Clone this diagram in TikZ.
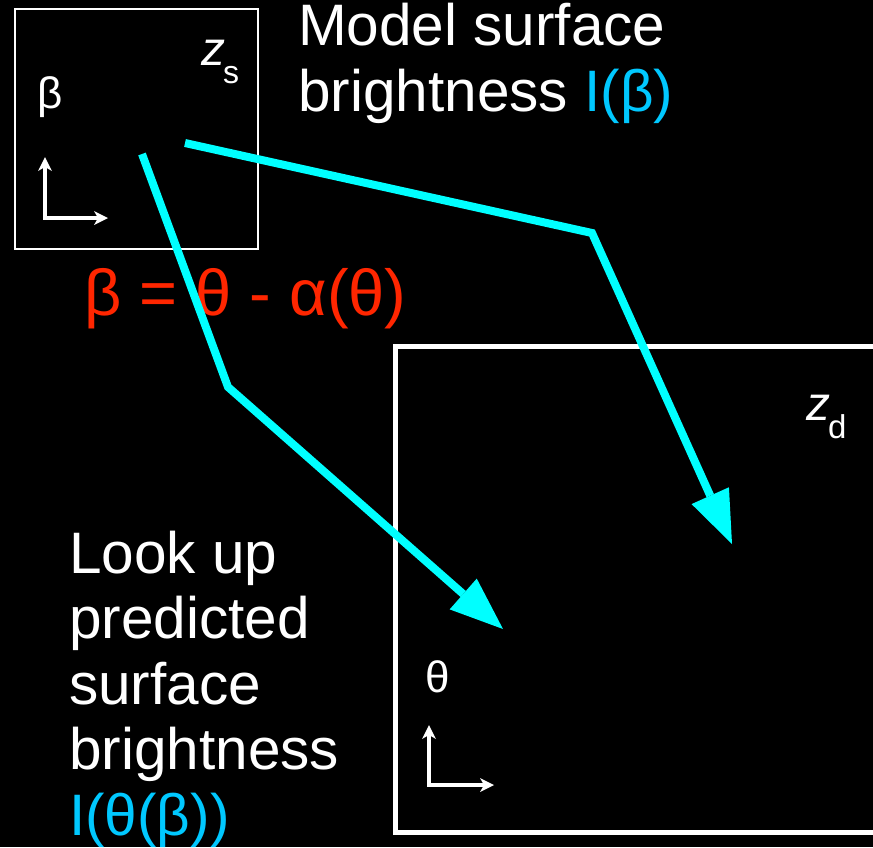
\documentclass[tikz,border=0pt]{standalone}
\usepackage{fontspec}
\setmainfont{Liberation Sans}
\usetikzlibrary{arrows.meta}
\definecolor{cy}{RGB}{0,255,255}
\definecolor{lblue}{RGB}{0,200,255}
\definecolor{redf}{RGB}{255,38,0}
\begin{document}
\begin{tikzpicture}[x=1pt,y=-1pt,
  lbl/.style={inner sep=0pt, anchor=base west, text=white},
  big/.style={lbl, font=\fontsize{58.5}{66}\selectfont},
  greek/.style={inner sep=0pt, text=white, font=\fontsize{44}{48}\selectfont},
  ray/.style={draw=cy, line width=8pt, line join=miter, -{Triangle[length=53pt,width=41pt,line width=0pt]}},
  axis/.style={draw=white, line width=3.5pt, line join=miter, {Stealth[length=14pt,width=14pt,inset=4pt,line width=0pt]}-{Stealth[length=14pt,width=14pt,inset=4pt,line width=0pt]}},
]
\useasboundingbox (0,0) rectangle (873,847);
\fill[black] (0,0) rectangle (873,847);

% source plane box
\draw[white, line width=2pt] (15,9) rectangle (258,249);
% image plane box (open on the right, runs off the page)
\draw[white, line width=5pt, line join=miter] (880,346) -- (395,346) -- (395,832) -- (880,832);

% axes
\coordinate (sa1) at (45,157);
\coordinate (sa0) at (45,218);
\coordinate (sa2) at (108,218);
\draw[axis] (sa1) -- (sa0) -- (sa2);
\coordinate (ia1) at (429,725);
\coordinate (ia0) at (429,785);
\coordinate (ia2) at (494,785);
\draw[axis] (ia1) -- (ia0) -- (ia2);

% labels inside boxes
\node[greek] (beta) at (50,97) {β};
\node[greek] (theta) at (438,677) {θ};
\node[lbl, font=\fontsize{48}{52}\selectfont\itshape] (zs) at (201,65) {z};
\node[lbl, font=\fontsize{32}{36}\selectfont] (zsub) at (223,83) {s};
\node[lbl, font=\fontsize{48}{52}\selectfont\itshape] (zd) at (806,420) {z};
\node[lbl, font=\fontsize{33}{36}\selectfont] (zdsub) at (828,438) {d};

% texts
\node[big] (m1) at (298,45) {Model surface};
\node[big] (m2) at (298,111) {brightness \textcolor{lblue}{I(β)}};
\node[lbl, text=redf, font=\fontsize{65}{70}\selectfont] (eq) at (84,315) {β = θ - α(θ)};
\node[big] (l1) at (69,573) {Look up};
\node[big] (l2) at (69,638.5) {predicted};
\node[big] (l3) at (69,704) {surface};
\node[big] (l4) at (69,769.5) {brightness};
\node[big, text=lblue] (l5) at (69,835) {I(θ(β))};

% rays
\coordinate (s1) at (185,143);
\coordinate (b1) at (592,233);
\coordinate (t1) at (732,544);
\coordinate (s2) at (142,154);
\coordinate (b2) at (228,387);
\coordinate (t2) at (503,629);
\draw[ray] (s1) -- (b1) -- (t1);
\draw[ray] (s2) -- (b2) -- (t2);
\end{tikzpicture}
\end{document}
